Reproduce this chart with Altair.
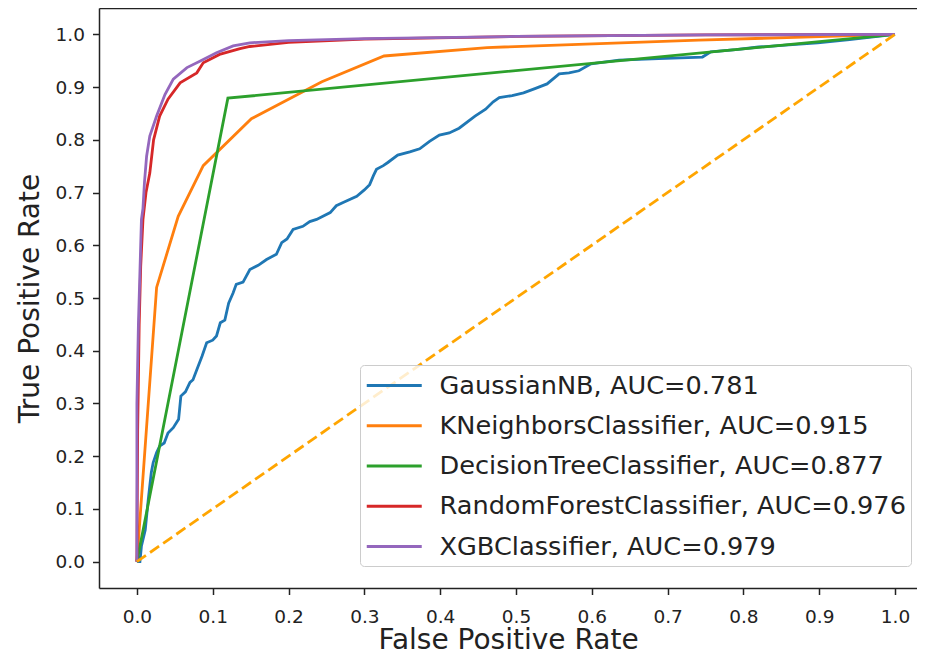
import altair as alt
import pandas as pd

labels = [
    "GaussianNB, AUC=0.781",
    "KNeighborsClassifier, AUC=0.915",
    "DecisionTreeClassifier, AUC=0.877",
    "RandomForestClassifier, AUC=0.976",
    "XGBClassifier, AUC=0.979",
]
colors = ["#1f77b4", "#ff7f0e", "#2ca02c", "#d62728", "#9467bd"]
tick_values = [0.0, 0.1, 0.2, 0.3, 0.4, 0.5, 0.6, 0.7, 0.8, 0.9, 1.0]

gnb_fpr = [0.0, 0.004, 0.006, 0.011, 0.015, 0.019, 0.0215, 0.026, 0.030, 0.036, 0.041, 0.048,
           0.055, 0.058, 0.064, 0.070, 0.074, 0.079, 0.086, 0.092, 0.100, 0.105, 0.110, 0.116,
           0.121, 0.127, 0.131, 0.140, 0.149, 0.160, 0.171, 0.184, 0.191, 0.198, 0.206, 0.219,
           0.228, 0.237, 0.255, 0.263, 0.272, 0.290, 0.300, 0.307, 0.312, 0.316, 0.325, 0.331,
           0.344, 0.360, 0.373, 0.386, 0.399, 0.412, 0.425, 0.446, 0.460, 0.470, 0.478, 0.495,
           0.510, 0.525, 0.541, 0.557, 0.570, 0.583, 0.599, 0.636, 0.688, 0.746, 0.757, 0.790,
           0.820, 0.860, 0.898, 0.940, 0.977, 1.0]
gnb_tpr = [0.0, 0.0, 0.030, 0.060, 0.118, 0.169, 0.188, 0.207, 0.219, 0.225, 0.244, 0.254,
           0.270, 0.314, 0.322, 0.340, 0.345, 0.364, 0.390, 0.415, 0.420, 0.428, 0.453, 0.458,
           0.490, 0.510, 0.526, 0.530, 0.554, 0.562, 0.573, 0.583, 0.605, 0.612, 0.630, 0.636,
           0.645, 0.649, 0.662, 0.675, 0.681, 0.693, 0.705, 0.715, 0.732, 0.744, 0.751, 0.757,
           0.771, 0.777, 0.783, 0.797, 0.809, 0.813, 0.822, 0.845, 0.858, 0.872, 0.880, 0.884,
           0.889, 0.897, 0.906, 0.925, 0.927, 0.931, 0.944, 0.951, 0.954, 0.957, 0.967, 0.971,
           0.976, 0.980, 0.984, 0.990, 0.996, 1.0]

knn_fpr = [0.0, 0.026, 0.0545, 0.0875, 0.151, 0.244, 0.326, 0.462, 0.741, 1.0]
knn_tpr = [0.0, 0.520, 0.655, 0.751, 0.840, 0.910, 0.959, 0.975, 0.989, 1.0]

dt_fpr = [0.0, 0.120, 1.0]
dt_tpr = [0.0, 0.879, 1.0]

rf_fpr = [0.0, 0.001, 0.003, 0.005, 0.008, 0.012, 0.017, 0.022, 0.030, 0.041, 0.057, 0.079,
          0.0875, 0.109, 0.136, 0.149, 0.200, 0.300, 0.500, 0.750, 1.0]
rf_tpr = [0.0, 0.250, 0.450, 0.560, 0.649, 0.700, 0.737, 0.800, 0.845, 0.877, 0.908, 0.927,
          0.946, 0.962, 0.973, 0.977, 0.985, 0.991, 0.996, 0.999, 1.0]

xgb_fpr = [0.0, 0.0, 0.002, 0.003, 0.005, 0.006, 0.008, 0.010, 0.0128, 0.017, 0.026, 0.037,
           0.048, 0.066, 0.083, 0.105, 0.127, 0.149, 0.200, 0.300, 0.500, 0.750, 1.0]
xgb_tpr = [0.0, 0.300, 0.450, 0.500, 0.600, 0.649, 0.670, 0.720, 0.769, 0.807, 0.845, 0.886,
           0.915, 0.937, 0.949, 0.965, 0.978, 0.984, 0.988, 0.992, 0.996, 0.999, 1.0]

diag_fpr = [0.0, 1.0]
diag_tpr = [0.0, 1.0]

series = [
    (labels[0], gnb_fpr, gnb_tpr),
    (labels[1], knn_fpr, knn_tpr),
    (labels[2], dt_fpr, dt_tpr),
    (labels[3], rf_fpr, rf_tpr),
    (labels[4], xgb_fpr, xgb_tpr),
]
rows = []
for name, fx, fy in series:
    for i, (a, b) in enumerate(zip(fx, fy)):
        rows.append({"model": name, "fpr": a, "tpr": b, "i": i})
df = pd.DataFrame(rows)
diag = pd.DataFrame({"fpr": diag_fpr, "tpr": diag_tpr})

FONT = "DejaVu Sans"
W, H = 818, 580
xscale = alt.Scale(domain=[-0.05, 1.029], nice=False, zero=False)
yscale = alt.Scale(domain=[-0.05, 1.05], nice=False, zero=False)

curves = alt.Chart(df).mark_line(strokeWidth=2.8, clip=True).encode(
    x=alt.X("fpr:Q", scale=xscale,
            axis=alt.Axis(values=tick_values, format=".1f", title="False Positive Rate",
                          labelPadding=13, titlePadding=0)),
    y=alt.Y("tpr:Q", scale=yscale,
            axis=alt.Axis(values=tick_values, format=".1f", title="True Positive Rate",
                          labelPadding=8, titlePadding=11)),
    color=alt.Color("model:N", sort=labels,
                    scale=alt.Scale(domain=labels, range=colors),
                    legend=alt.Legend(title=None, orient="none", legendX=261, legendY=357,
                                      symbolType="M-1,0H3", symbolSize=756, symbolStrokeWidth=3,
                                      labelFont=FONT, labelFontSize=25.6, labelColor="#222",
                                      labelOffset=43.5, labelLimit=0, rowPadding=10.25,
                                      padding=5, cornerRadius=4, strokeColor="#cccccc",
                                      fillColor="rgba(255,255,255,0.8)")),
    order="i:Q",
)

diagonal = alt.Chart(diag).mark_line(color="orange", strokeDash=[11, 5], strokeWidth=2.8).encode(
    x=alt.X("fpr:Q", scale=xscale,
            axis=alt.Axis(orient="top", labels=False, ticks=False, title=None, domain=True)),
    y=alt.Y("tpr:Q", scale=yscale),
)

chart = (
    alt.layer(curves, diagonal)
    .resolve_axis(x="independent")
    .properties(width=W, height=H, autosize=alt.AutoSizeParams(type="none"),
                padding={"left": 91, "top": 0, "right": 0, "bottom": 62})
    .configure_view(stroke=None)
    .configure_axis(grid=False, domainColor="#222", domainWidth=1.5, tickColor="#222",
                    tickWidth=1.5, tickSize=6.5, labelFont=FONT, labelFontSize=18.5,
                    labelColor="#222", titleFont=FONT, titleFontSize=28,
                    titleFontWeight="normal", titleColor="#222")
)

chart.save("out.html", embed_options={"renderer": "svg", "actions": False})
